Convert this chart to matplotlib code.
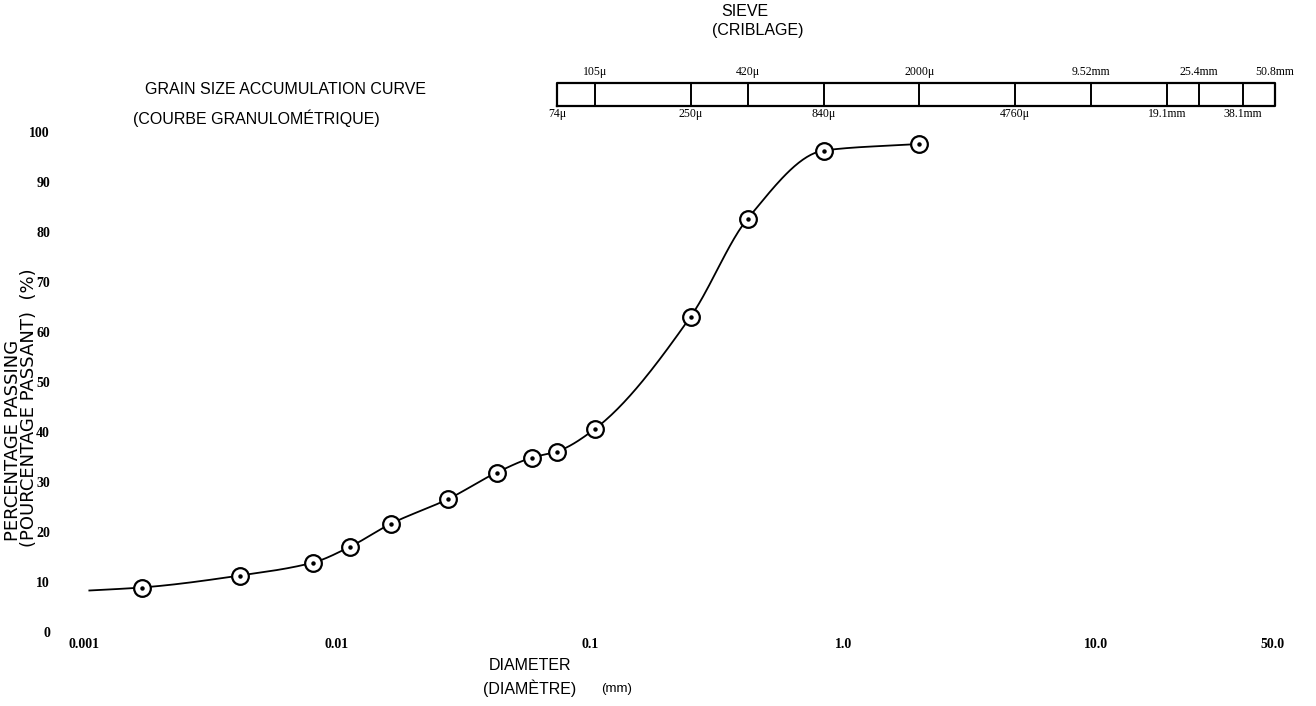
import numpy as np
import matplotlib
matplotlib.use("Agg")
import matplotlib.pyplot as plt
import matplotlib.transforms as mtransforms

# data (diameter in mm, percentage passing)
diameter = [0.00169, 0.00414, 0.00806, 0.0113, 0.0164, 0.0275, 0.0428, 0.0591,
            0.074, 0.105, 0.25, 0.42, 0.84, 2.0]
passing = [8.9, 11.3, 13.9, 17.1, 21.7, 26.6, 31.9, 34.9,
           36.1, 40.7, 63.1, 82.7, 96.3, 97.6]
# the drawn curve starts a bit left of the first point
curve_start = (0.00105, 8.3)

sieve_sizes = [0.074, 0.105, 0.25, 0.42, 0.84, 2.0, 4.76, 9.52, 19.1, 25.4, 38.1, 50.8]
sieve_labels = ["74μ", "105μ", "250μ", "420μ", "840μ", "2000μ", "4760μ",
                "9.52mm", "19.1mm", "25.4mm", "38.1mm", "50.8mm"]

x_ticks = [0.001, 0.01, 0.1, 1.0, 10.0, 50.0]
x_ticklabels = ["0.001", "0.01", "0.1", "1.0", "10.0", "50.0"]
y_ticks = [0, 10, 20, 30, 40, 50, 60, 70, 80, 90, 100]

sans = ["Liberation Sans", "DejaVu Sans"]
serif = ["Liberation Serif", "DejaVu Serif"]


def pchip(x, y, xs):
    # monotone cubic so the drawn curve looks hand-smoothed
    x = np.asarray(x, float)
    y = np.asarray(y, float)
    h = np.diff(x)
    d = np.diff(y) / h
    m = np.zeros_like(y)
    for k in range(1, len(x) - 1):
        if d[k - 1] * d[k] > 0:
            w1 = 2 * h[k] + h[k - 1]
            w2 = h[k] + 2 * h[k - 1]
            m[k] = (w1 + w2) / (w1 / d[k - 1] + w2 / d[k])
    m[0] = d[0]
    m[-1] = d[-1]
    out = np.empty_like(xs)
    for i, xv in enumerate(xs):
        k = min(max(np.searchsorted(x, xv) - 1, 0), len(x) - 2)
        t = (xv - x[k]) / h[k]
        h00 = 2 * t**3 - 3 * t**2 + 1
        h10 = t**3 - 2 * t**2 + t
        h01 = -2 * t**3 + 3 * t**2
        h11 = t**3 - t**2
        out[i] = h00 * y[k] + h10 * h[k] * m[k] + h01 * y[k + 1] + h11 * h[k] * m[k + 1]
    return out


fig = plt.figure(figsize=(13.16, 7.06), dpi=100)
ax = fig.add_axes([84 / 1316, 74 / 706, 1209 / 1316, 500 / 706])
ax.set_xscale("log")
ax.set_xlim(0.001, 60)
ax.set_ylim(0, 100)
for s in ax.spines.values():
    s.set_visible(False)

# smooth curve
lx = np.log10([curve_start[0]] + diameter)
ly = [curve_start[1]] + passing
xs = np.linspace(lx[0], lx[-1], 400)
ax.plot(10 ** xs, pchip(lx, ly, xs), color="black", lw=1.3, clip_on=False)
ax.plot(diameter, passing, "o", ms=12, mfc="white", mec="black", mew=1.6, clip_on=False)
ax.plot(diameter, passing, "o", ms=2.2, color="black", clip_on=False)

ax.set_xticks(x_ticks)
ax.set_xticklabels(x_ticklabels)
ax.xaxis.set_minor_locator(matplotlib.ticker.NullLocator())
ax.set_yticks(y_ticks)
ax.tick_params(axis="both", length=0)
ax.tick_params(axis="x", pad=4)
ax.tick_params(axis="y", pad=24.5)
for lab in ax.get_xticklabels() + ax.get_yticklabels():
    lab.set_fontfamily(serif)
    lab.set_fontweight("bold")
    lab.set_fontsize(10)

# sieve scale bar, aligned with the diameter axis
trans = mtransforms.blended_transform_factory(ax.transData, ax.transAxes)
bar_bot, bar_top = 1.052, 1.098
ax.plot([sieve_sizes[0], sieve_sizes[-1], sieve_sizes[-1], sieve_sizes[0], sieve_sizes[0]],
        [bar_bot, bar_bot, bar_top, bar_top, bar_bot], color="black", lw=1.6,
        transform=trans, clip_on=False)
for i, (sz, lab) in enumerate(zip(sieve_sizes, sieve_labels)):
    if 0 < i < len(sieve_sizes) - 1:
        ax.plot([sz, sz], [bar_bot, bar_top], color="black", lw=1.4,
                transform=trans, clip_on=False)
    if i % 2 == 1:
        ax.text(sz, bar_top + 0.01, lab, transform=trans, ha="center", va="bottom",
                fontsize=8.5, family=serif)
    else:
        ax.text(sz, bar_bot - 0.004, lab, transform=trans, ha="center", va="top",
                fontsize=8.5, family=serif)

fig.text(721 / 1316, 1 - 12 / 706, "SIEVE", ha="left", va="center", fontsize=11.5, family=sans)
fig.text(712 / 1316, 1 - 31 / 706, "(CRIBLAGE)", ha="left", va="center", fontsize=11.5, family=sans)

fig.text(145 / 1316, 1 - 90 / 706, "GRAIN SIZE ACCUMULATION CURVE", ha="left", va="center",
         fontsize=11.5, family=sans)
fig.text(133 / 1316, 1 - 118 / 706, "(COURBE GRANULOMÉTRIQUE)", ha="left", va="center",
         fontsize=11.5, family=sans)

fig.text(13 / 1316, 1 - 440 / 706, "PERCENTAGE PASSING", rotation=90, ha="center", va="center",
         fontsize=13, family=["DejaVu Sans"])
fig.text(29 / 1316, 1 - 408 / 706, "(POURCENTAGE PASSANT)  (%)", rotation=90, ha="center",
         va="center", fontsize=13, family=["DejaVu Sans"])

fig.text(530 / 1316, 1 - 666 / 706, "DIAMETER", ha="center", va="center", fontsize=11.5, family=sans)
fig.text(530 / 1316, 1 - 688 / 706, "(DIAMÈTRE)", ha="center", va="center", fontsize=11.5, family=sans)
fig.text(617 / 1316, 1 - 689 / 706, "(mm)", ha="center", va="center", fontsize=9.5, family=sans)

fig.savefig("out.png", dpi=100)
